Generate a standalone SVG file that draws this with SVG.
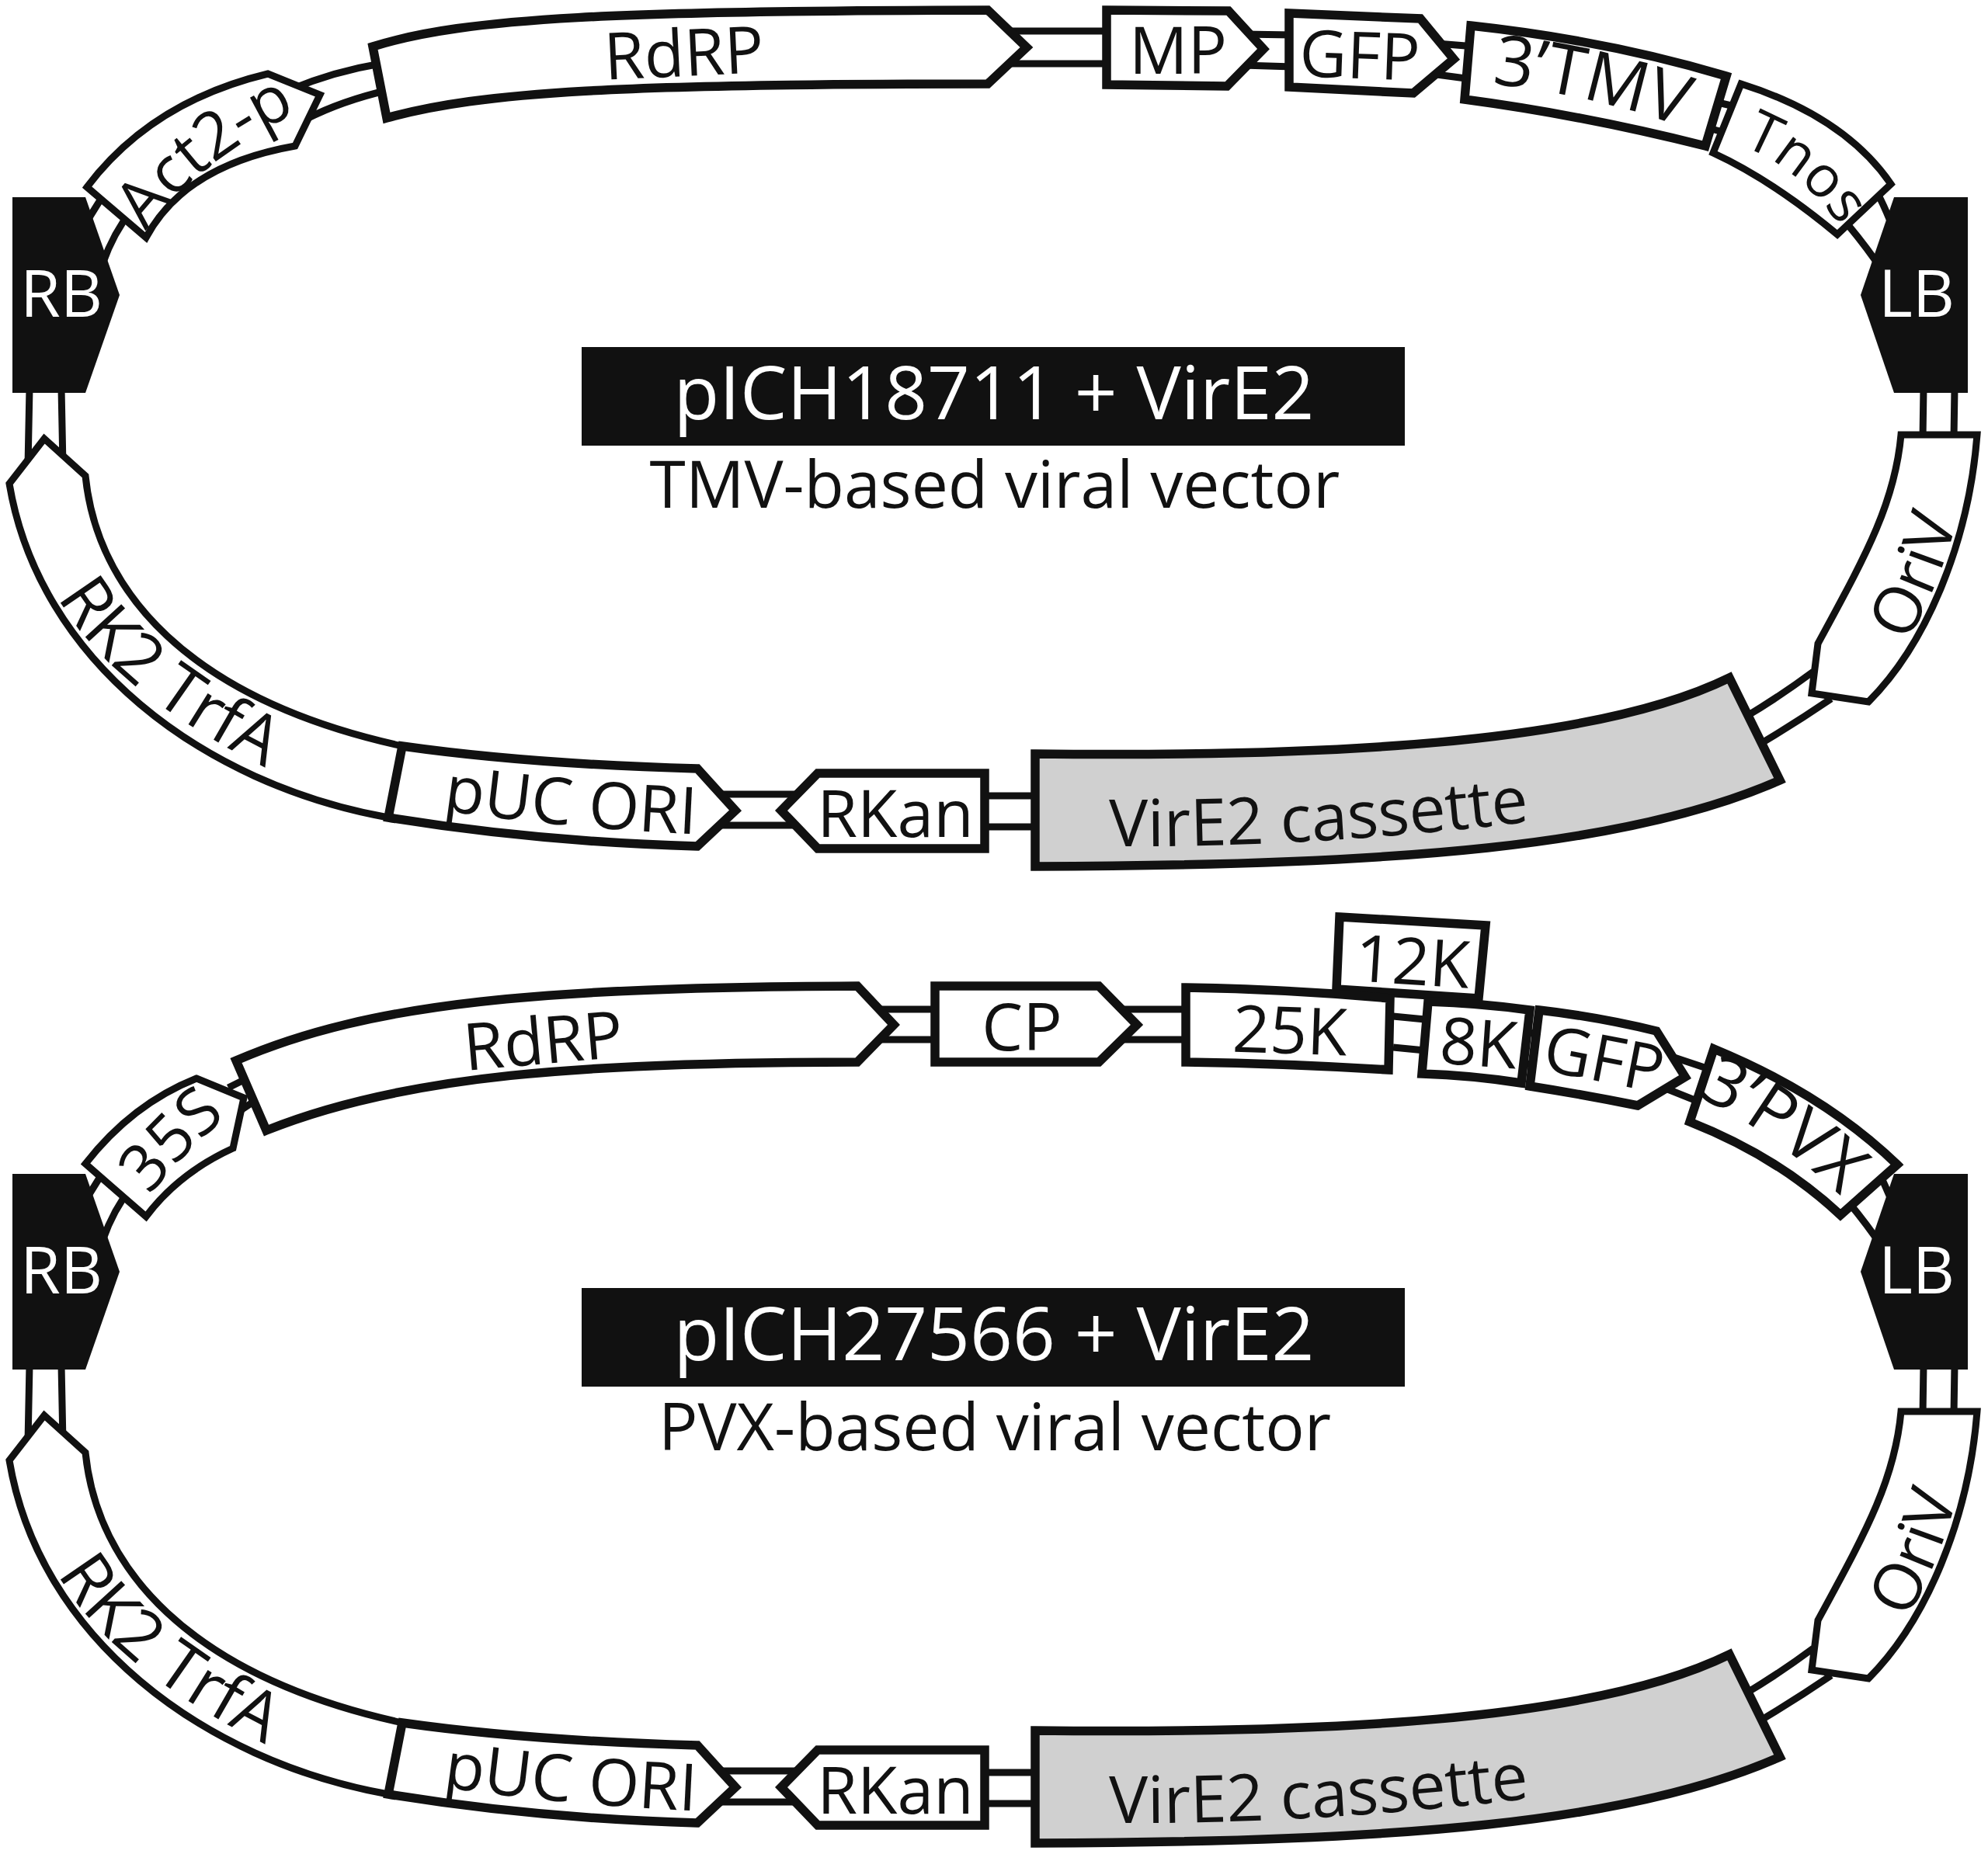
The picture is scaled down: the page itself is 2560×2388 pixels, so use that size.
<svg xmlns="http://www.w3.org/2000/svg" width="2560" height="2388" viewBox="0 0 2560 2388">
<style>
text{font-family:"Open Sans","Noto Sans","Liberation Sans",sans-serif;font-size:84px;fill:#111}
.n{fill:#fff;stroke:#111;stroke-width:11.5;stroke-linejoin:miter;stroke-miterlimit:8}
.t{fill:#fff;stroke:#111;stroke-width:9;stroke-linejoin:miter;stroke-miterlimit:8}
.g{fill:#d0d0d0;stroke:#111;stroke-width:11.5;stroke-linejoin:miter}
.b{fill:#111}
.l{fill:none;stroke:#111;stroke-width:9}
.m{text-anchor:middle}
.ti{font-size:96px;fill:#fff;text-anchor:middle}
.su{font-size:84px;text-anchor:middle}
.big{font-size:90px}
.w{fill:#fff}
</style>
<defs>
<path id="pAct" d="M188,298 Q268,192 420,128"/>
<path id="p3T" d="M1921,108 Q2060,123 2190,172"/>
<path id="pTn" d="M2243,188 Q2300,208 2352,268 L2420,360"/>
<path id="pRK" d="M74,769 Q146,894 353,994 L426,1024"/>
<path id="pPU" d="M570,1044 Q720,1066 890,1074"/>
<path id="pVi" d="M1428,1090 Q1700,1092 1990,1056"/>
<path id="pOr" d="M2456,828 Q2515,720 2530,620"/>
<path id="p35" d="M193,1540 Q235,1485 300,1432"/>
<path id="p3P" d="M2185,1412 Q2290,1460 2390,1560"/>
</defs>
<g id="connectors-top">
<path class="l" d="M112,285L140,240M132,340Q146,300 170,270M375,115Q430,92 490,82M395,153Q440,130 500,116M1300,40H1430M1300,82H1430M1600,44L1665,45M1600,84L1665,86M1850,56L1900,60M1850,96L1895,102M2212,132L2238,138M2200,165L2226,172"/>
<path class="l" id="shared-links-top" d="M2410,235Q2425,260 2440,300M2380,290Q2405,320 2425,350M2477,500L2476,565M2517,500L2516,565M2335,865Q2292,897 2245,925M2358,900Q2305,936 2250,968M1260,1025H1340M1260,1065H1340M925,1023H1030M925,1063H1030M38,500L36,600M79,500L81,600"/>
</g>
<g id="connectors-bottom">
<path class="l" d="M112,1543L140,1498M132,1598Q146,1558 170,1528M294,1401L312,1392M310,1430L325,1420M1130,1300H1210M1130,1339H1210M1435,1300H1530M1435,1339H1530M1794,1309L1835,1313M1794,1349L1835,1353M1966,1330L1986,1332M1964,1370L1982,1372M2150,1360L2210,1380M2140,1400L2190,1420"/>
<path class="l" transform="translate(0,1258)" d="M2410,235Q2425,260 2440,300M2380,290Q2405,320 2425,350M2477,500L2476,565M2517,500L2516,565M2335,865Q2292,897 2245,925M2358,900Q2305,936 2250,968M1260,1025H1340M1260,1065H1340M925,1023H1030M925,1063H1030M38,500L36,600M79,500L81,600"/>
</g>

<g id="title-top"><rect class="b" x="749" y="447" width="1060" height="127"/><text class="ti" x="1280" y="540">pICH18711 + VirE2</text><text class="su" x="1281" y="654">TMV-based viral vector</text></g>
<g id="rb-top"><path class="b" d="M16,254H110L154,380L110,506H16Z"/><text x="79" y="408" class="m w" style="fill:#fff">RB</text></g>
<g id="lb-top"><path class="b" d="M2534,254H2439L2396,380L2439,506H2534Z"/><text x="2468" y="408" class="m w" style="fill:#fff">LB</text></g>
<g id="act2-top"><path class="t" d="M112,241Q195,131 345,95L412,122L380,188Q238,213 188,306Z"/><text><textPath href="#pAct">Act2-p</textPath></text></g>
<g id="rdrp-top"><path class="n" d="M480,60C600,22 800,14 1272,13L1322,61L1272,108C800,108 620,118 498,152Z"/><text class="m" transform="translate(882,98) rotate(-2.7)">RdRP</text></g>
<g id="mp-top"><path class="n" d="M1425,13L1582,14L1627,63L1580,111L1425,109Z"/><text class="m" x="1517" y="95">MP</text></g>
<g id="gfp-top"><path class="n" d="M1660,17L1829,24L1872,76L1820,120L1660,112Z"/><text class="m" transform="translate(1750,101) rotate(2)">GFP</text></g>
<g id="tmv3-top"><path class="n" d="M1894,33Q2069,52 2223,98L2196,188Q2037,148 1886,128Z"/><text class="big"><textPath href="#p3T">3’TMV</textPath></text></g>
<g id="tnos-top"><path class="t" d="M2242,108Q2375,150 2435,237L2366,302Q2282,232 2206,197Z"/><text style="font-size:74px"><textPath href="#pTn">Tnos</textPath></text></g>
<g id="oriv-top"><path class="t" d="M2448,560H2546C2535,700 2480,830 2406,904L2333,893L2341,829C2400,720 2440,650 2448,560Z"/><text><textPath href="#pOr">OriV</textPath></text></g>
<g id="vire2-top"><path class="g" d="M1333,971C1700,975 2050,960 2227,873L2292,1005C2100,1090 1800,1115 1333,1116Z"/><text><textPath href="#pVi">VirE2 cassette</textPath></text></g>
<g id="rkan-top"><path class="n" d="M1053,996H1268V1093H1053L1006,1044Z"/><text class="m" x="1153" y="1078">RKan</text></g>
<g id="trfa-top"><path class="t" d="M57,565L110,613C125,760 240,900 518,961L500,1053C260,1010 50,850 12,623Z"/><text style="font-size:88px"><textPath href="#pRK">RK2 TrfA</textPath></text></g>
<g id="puc-top"><path class="n" d="M518,961Q680,984 898,990L947,1044L898,1090Q689,1084 500,1053Z"/><text><textPath href="#pPU">pUC ORI</textPath></text></g>

<g id="title-bottom"><rect class="b" x="749" y="1659" width="1060" height="127"/><text class="ti" x="1280" y="1752">pICH27566 + VirE2</text><text class="su" x="1281" y="1868">PVX-based viral vector</text></g>
<g id="rb-bottom"><path class="b" d="M16,1512H110L154,1638L110,1764H16Z"/><text x="79" y="1666" class="m w" style="fill:#fff">RB</text></g>
<g id="lb-bottom"><path class="b" d="M2534,1512H2439L2396,1638L2439,1764H2534Z"/><text x="2468" y="1666" class="m w" style="fill:#fff">LB</text></g>
<g id="s35-bottom"><path class="t" d="M110,1499Q170,1422 253,1389L314,1414L300,1479Q230,1511 188,1567Z"/><text><textPath href="#p35">35S</textPath></text></g>
<g id="rdrp-bottom"><path class="n" d="M304,1366C480,1290 700,1272 1104,1270L1151,1320L1104,1368C750,1368 520,1385 343,1456Z"/><text class="m" transform="translate(702,1370) rotate(-5)">RdRP</text></g>
<g id="cp-bottom"><path class="n" d="M1204,1270H1415L1464,1320L1415,1368H1204Z"/><text class="m" x="1316" y="1353">CP</text></g>
<g id="k12-bottom"><path class="n" d="M1725,1181L1913,1192L1904,1286L1721,1274Z"/><text class="m" transform="translate(1817,1268) rotate(3.6)">12K</text></g>
<g id="k25-bottom"><path class="n" d="M1527,1272Q1660,1274 1790,1286L1788,1378Q1660,1370 1527,1368Z"/><text class="m" transform="translate(1660,1357) rotate(2)">25K</text></g>
<g id="k8-bottom"><path class="n" d="M1839,1290Q1905,1292 1970,1301L1959,1395Q1895,1385 1831,1383Z"/><text class="m" transform="translate(1902,1373) rotate(4)">8K</text></g>
<g id="gfp-bottom"><path class="n" d="M1982,1301Q2060,1310 2133,1328L2170,1387L2109,1424Q2040,1410 1970,1399Z"/><text class="m" transform="translate(2060,1393) rotate(11)">GFP</text></g>
<g id="pvx3-bottom"><path class="n" d="M2207,1351Q2350,1410 2443,1500L2370,1565Q2290,1490 2176,1445Z"/><text class="big"><textPath href="#p3P">3’PVX</textPath></text></g>
<g id="oriv-bottom" transform="translate(0,1258)"><path class="t" d="M2448,560H2546C2535,700 2480,830 2406,904L2333,893L2341,829C2400,720 2440,650 2448,560Z"/><text><textPath href="#pOr">OriV</textPath></text></g>
<g id="vire2-bottom" transform="translate(0,1258)"><path class="g" d="M1333,971C1700,975 2050,960 2227,873L2292,1005C2100,1090 1800,1115 1333,1116Z"/><text><textPath href="#pVi">VirE2 cassette</textPath></text></g>
<g id="rkan-bottom" transform="translate(0,1258)"><path class="n" d="M1053,996H1268V1093H1053L1006,1044Z"/><text class="m" x="1153" y="1078">RKan</text></g>
<g id="trfa-bottom" transform="translate(0,1258)"><path class="t" d="M57,565L110,613C125,760 240,900 518,961L500,1053C260,1010 50,850 12,623Z"/><text style="font-size:88px"><textPath href="#pRK">RK2 TrfA</textPath></text></g>
<g id="puc-bottom" transform="translate(0,1258)"><path class="n" d="M518,961Q680,984 898,990L947,1044L898,1090Q689,1084 500,1053Z"/><text><textPath href="#pPU">pUC ORI</textPath></text></g>
</svg>
